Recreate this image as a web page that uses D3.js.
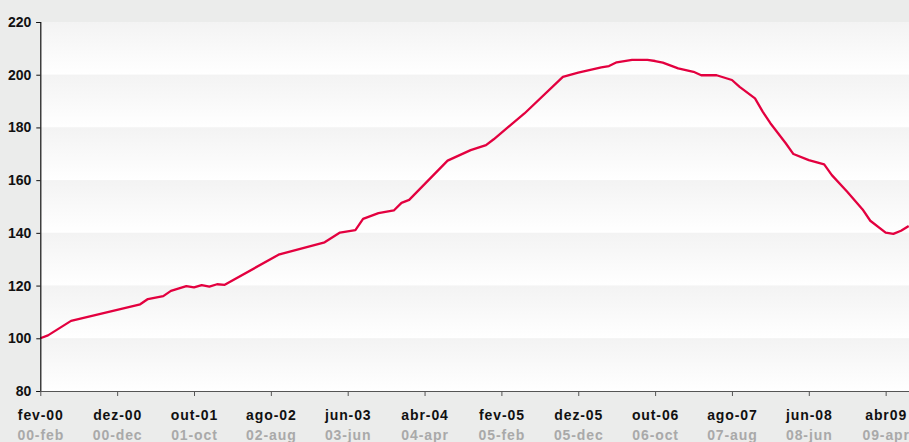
<!DOCTYPE html>
<html>
<head>
<meta charset="utf-8">
<script src="https://cdn.jsdelivr.net/npm/d3@7"></script>
<style>
  html, body { margin: 0; padding: 0; background: #ebeceb; }
  svg { display: block; }
  .tick text { font-family: "Liberation Sans", Arial, sans-serif; font-weight: bold; }
</style>
</head>
<body>
<div id="chart"></div>
<script>
// Monthly index, Feb 2000 = 100 (vertices of the series)
const months = [
  "2000-02","2000-03","2000-06","2001-03","2001-04","2001-06","2001-07","2001-09",
  "2001-10","2001-11","2001-12","2002-01","2002-02","2002-09","2003-03","2003-05",
  "2003-07","2003-08","2003-10","2003-12","2004-01","2004-02","2004-07","2004-10",
  "2004-12","2005-01","2005-05","2005-10","2005-12","2006-03","2006-04","2006-05",
  "2006-07","2006-09","2006-10","2006-11","2007-01","2007-03","2007-04","2007-06",
  "2007-08","2007-09","2007-11","2007-12","2008-01","2008-03","2008-04","2008-06",
  "2008-08","2008-09","2008-11","2009-01","2009-02","2009-04","2009-05","2009-06",
  "2009-07"
];
const values = [
  100.0, 101.1, 106.6, 112.9, 114.9, 116.0, 118.0, 119.8,
  119.3, 120.2, 119.6, 120.5, 120.3, 131.7, 136.4, 140.1,
  141.0, 145.3, 147.5, 148.5, 151.4, 152.5, 167.4, 171.4,
  173.3, 175.5, 185.3, 199.2, 200.8, 202.8, 203.3, 204.7,
  205.6, 205.6, 205.2, 204.6, 202.4, 201.1, 199.8, 199.8,
  198.0, 195.4, 191.0, 186.0, 181.6, 174.0, 169.9, 167.6,
  166.0, 161.9, 155.6, 148.9, 144.6, 140.1, 139.6, 140.8,
  142.6
];

// Bottom axis: Portuguese labels with English labels beneath
const tickMonths = ["2000-02","2000-12","2001-10","2002-08","2003-06","2004-04",
                    "2005-02","2005-12","2006-10","2007-08","2008-06","2009-04"];
const tickLabelsPt = ["fev-00","dez-00","out-01","ago-02","jun-03","abr-04",
                      "fev-05","dez-05","out-06","ago-07","jun-08","abr09"];
const tickLabelsEn = ["00-feb","00-dec","01-oct","02-aug","03-jun","04-apr",
                      "05-feb","05-dec","06-oct","07-aug","08-jun","09-apr"];

const yTicks = [80, 100, 120, 140, 160, 180, 200, 220];

const W = 909, H = 442;
const margin = { left: 40.3, top: 22, bottom: 51 };

// month offset from Feb 2000
const monthIndex = s => {
  const [y, m] = s.split("-").map(Number);
  return (y - 2000) * 12 + (m - 2);
};

const x = d3.scaleLinear().domain([0, 113]).range([margin.left, margin.left + 113 * 7.685]);
const y = d3.scaleLinear().domain([80, 220]).range([H - margin.bottom, margin.top]);

const svg = d3.select("#chart").append("svg").attr("width", W).attr("height", H);
const defs = svg.append("defs");

const grad = defs.append("linearGradient")
  .attr("id", "band").attr("x1", 0).attr("y1", 0).attr("x2", 0).attr("y2", 1);
grad.append("stop").attr("offset", "0%").attr("stop-color", "#f3f3f3");
grad.append("stop").attr("offset", "100%").attr("stop-color", "#ffffff");

// shaded horizontal bands between gridlines
const bands = d3.pairs(yTicks);
svg.append("g").selectAll("rect").data(bands).join("rect")
  .attr("x", margin.left)
  .attr("width", W - margin.left)
  .attr("y", d => y(d[1]))
  .attr("height", d => y(d[0]) - y(d[1]))
  .attr("fill", "url(#band)");

// series
const pts = months.map((m, i) => ({ m: monthIndex(m), v: values[i] }));
const line = d3.line().x(d => x(d.m)).y(d => y(d.v));
svg.append("path")
  .datum(pts)
  .attr("d", line)
  .attr("fill", "none")
  .attr("stroke", "#e3003f")
  .attr("stroke-width", 2.3)
  .attr("stroke-linejoin", "round");

// y axis
const yAxis = d3.axisLeft(y).tickValues(yTicks).tickSize(4).tickPadding(5);
const gy = svg.append("g").attr("transform", `translate(${margin.left},0)`).call(yAxis);
gy.select(".domain").attr("stroke", "#111").attr("stroke-width", 1.2);
gy.selectAll(".tick line").attr("stroke", "#111");
gy.selectAll(".tick text").attr("fill", "#111").style("font-size", "14px");

// x axis
const tickIdx = tickMonths.map(monthIndex);
const xAxis = d3.axisBottom(x).tickValues(tickIdx).tickSize(5)
  .tickFormat((d, i) => tickLabelsPt[i]);
const gx = svg.append("g").attr("transform", `translate(0,${H - margin.bottom})`).call(xAxis);
gx.select(".domain").attr("stroke", "#555").attr("stroke-width", 1.2)
  .attr("d", `M${margin.left},0.5H${W}`);
gx.selectAll(".tick line").attr("stroke", "#555");
gx.selectAll(".tick text")
  .attr("fill", "#111")
  .attr("y", 19)
  .style("font-size", "14px")
  .style("letter-spacing", "0.9px");
gx.selectAll(".tick").append("text")
  .attr("y", 39)
  .attr("dy", "0.71em")
  .attr("text-anchor", "middle")
  .attr("fill", "#a9a9a9")
  .style("font-size", "14px")
  .style("letter-spacing", "0.9px")
  .text((d, i) => tickLabelsEn[i]);
</script>
</body>
</html>
